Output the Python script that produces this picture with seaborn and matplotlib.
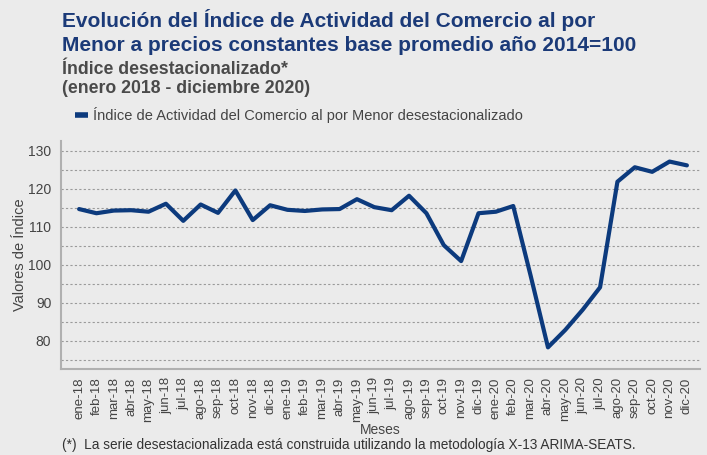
"""Índice de Actividad del Comercio al por Menor, serie desestacionalizada."""

import matplotlib
matplotlib.use("Agg")
import pandas as pd
import seaborn as sns
from matplotlib import pyplot as plt
from matplotlib.ticker import MultipleLocator

MESES = [
    "ene-18", "feb-18", "mar-18", "abr-18", "may-18", "jun-18",
    "jul-18", "ago-18", "sep-18", "oct-18", "nov-18", "dic-18",
    "ene-19", "feb-19", "mar-19", "abr-19", "may-19", "jun-19",
    "jul-19", "ago-19", "sep-19", "oct-19", "nov-19", "dic-19",
    "ene-20", "feb-20", "mar-20", "abr-20", "may-20", "jun-20",
    "jul-20", "ago-20", "sep-20", "oct-20", "nov-20", "dic-20",
]

INDICE = [
    114.7, 113.6, 114.3, 114.4, 114.0, 116.1,
    111.6, 115.9, 113.7, 119.6, 111.8, 115.7,
    114.5, 114.2, 114.6, 114.7, 117.3, 115.2,
    114.4, 118.2, 113.6, 105.2, 101.0, 113.6,
    114.0, 115.5, 97.2, 78.3, 82.9, 88.2,
    94.1, 121.9, 125.7, 124.5, 127.2, 126.2,
]

BG = "#ebebeb"
NAVY = "#0c3a7d"
TITLE_COLOR = "#1b3a78"
GRAY_TEXT = "#444444"


def _main() -> None:
    sns.set_style("white")
    plt.rcParams["font.family"] = ["Liberation Sans", "DejaVu Sans"]

    df = pd.DataFrame({"pos": range(len(MESES)), "mes": MESES, "indice": INDICE})

    fig = plt.figure(figsize=(7.07, 4.55), dpi=100, facecolor=BG)
    ax = fig.add_axes((0.0863, 0.189, 0.9037, 0.501))
    ax.set_facecolor(BG)

    sns.lineplot(data=df, x="pos", y="indice", ax=ax, color=NAVY,
                 linewidth=3.0, legend=False)

    ax.set_xlim(-1.04, 35.75)
    ax.set_ylim(72.6, 132.6)
    ax.yaxis.set_major_locator(MultipleLocator(10))
    ax.yaxis.set_minor_locator(MultipleLocator(5))
    ax.set_xticks(df["pos"])
    ax.set_xticklabels(df["mes"], rotation=90, fontsize=9.5, color=GRAY_TEXT)
    ax.tick_params(axis="y", which="major", labelsize=10, labelcolor=GRAY_TEXT,
                   length=4, color="#999999", width=0.8, pad=3)
    ax.tick_params(axis="y", which="minor", length=0)
    ax.tick_params(axis="x", length=4, color="#999999", width=0.8, pad=2)

    ax.grid(which="both", axis="y", color="#9a9a9a", linestyle=(0, (2, 2)),
            linewidth=0.8)
    ax.set_axisbelow(True)

    for side in ("top", "right"):
        ax.spines[side].set_visible(False)
    for side in ("left", "bottom"):
        ax.spines[side].set_color("#b0b0b0")
        ax.spines[side].set_linewidth(1.5)

    ax.set_xlabel("Meses", fontsize=10, color=GRAY_TEXT, labelpad=1)
    ax.set_ylabel("Valores de Índice", fontsize=10.5, color=GRAY_TEXT, labelpad=0.5)

    # Titles
    fig.text(0.087, 0.955, "Evolución del Índice de Actividad del Comercio al por",
             fontsize=15, fontweight="bold", color=TITLE_COLOR, va="center")
    fig.text(0.087, 0.9, "Menor a precios constantes base promedio año 2014=100",
             fontsize=15, fontweight="bold", color=TITLE_COLOR, va="center")
    fig.text(0.087, 0.848, "Índice desestacionalizado*",
             fontsize=12.7, fontweight="bold", color="#4a4a4a", va="center")
    fig.text(0.087, 0.805, "(enero 2018 - diciembre 2020)",
             fontsize=12.7, fontweight="bold", color="#4a4a4a", va="center")

    # Legend
    fig.lines.append(plt.Line2D([0.106, 0.124], [0.747, 0.747],
                                transform=fig.transFigure, color=NAVY,
                                linewidth=4, solid_capstyle="butt"))
    fig.text(0.132, 0.747,
             "Índice de Actividad del Comercio al por Menor desestacionalizado",
             fontsize=10.5, color=GRAY_TEXT, va="center")

    fig.text(0.087, 0.022,
             "(*)  La serie desestacionalizada está construida utilizando la "
             "metodología X-13 ARIMA-SEATS.",
             fontsize=9.8, color="#333333", va="center")

    fig.savefig("out.png", dpi=100, facecolor=BG)


if __name__ == "__main__":
    _main()
